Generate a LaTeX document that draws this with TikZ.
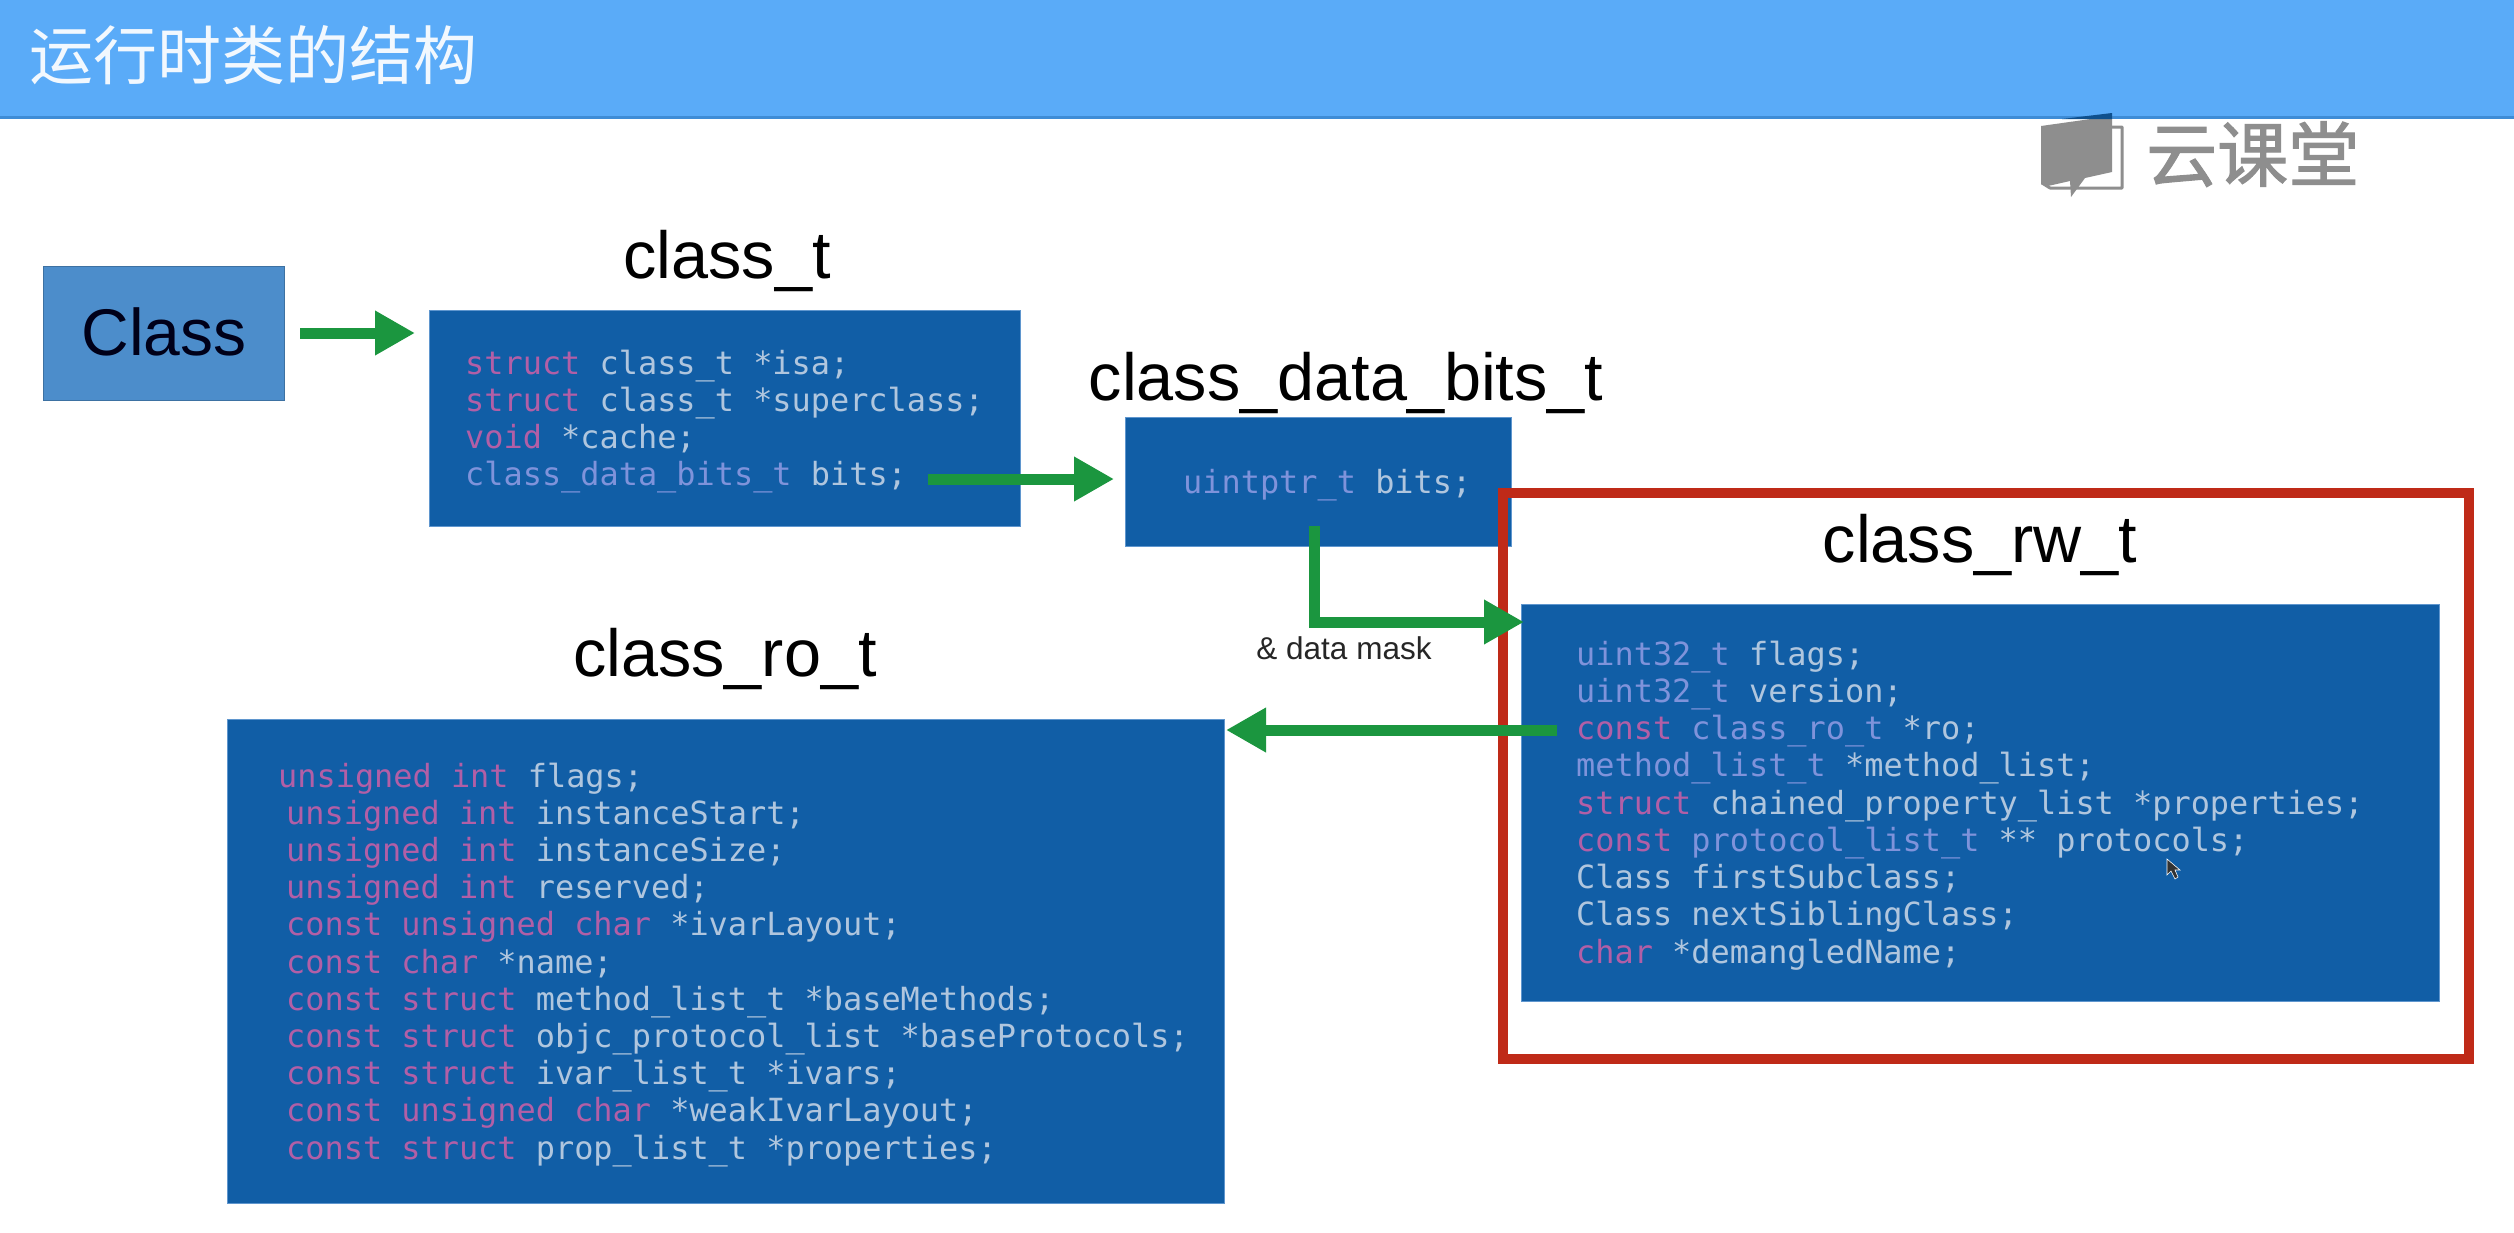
\documentclass[tikz,border=0pt]{standalone}
\usepackage{fontspec}
\setmainfont{Liberation Sans}
\newfontfamily\cjk{Noto Sans CJK SC}
\newfontfamily\logofont[FakeBold=1.5]{Noto Sans CJK SC}
\newfontfamily\codefont{DejaVu Sans Mono}
\usetikzlibrary{arrows.meta}
\definecolor{headblue}{HTML}{5AABF8}
\definecolor{headline}{HTML}{3E8CD6}
\definecolor{boxblue}{HTML}{115EA6}
\definecolor{boxedge}{HTML}{5F96CE}
\definecolor{classblue}{HTML}{4C8DCB}
\definecolor{arrowgreen}{HTML}{1B963F}
\definecolor{framered}{HTML}{BF2A18}
\definecolor{kw}{HTML}{B25FA6}
\definecolor{ty}{HTML}{7F93DB}
\definecolor{id}{HTML}{B0C6DE}
\definecolor{logogrey}{HTML}{8E8E8E}
\newcommand{\K}[1]{\textcolor{kw}{#1}}
\newcommand{\T}[1]{\textcolor{ty}{#1}}
\tikzset{
  x=1pt,y=-1pt,
  codebox/.style={draw=boxedge,line width=1pt,fill=boxblue,anchor=north west,inner sep=0pt,outer sep=0pt},
  code/.style={anchor=base west,inner sep=0pt,text=id,font=\codefont\fontsize{31.9}{36}\selectfont},
  heading/.style={anchor=base,inner sep=0pt,text=black,font=\fontsize{66.6}{70}\selectfont},
  conn/.style={draw=arrowgreen,line width=11pt,-{Triangle[length=40pt,width=42pt]},line join=miter}
}
\begin{document}
\begin{tikzpicture}
\useasboundingbox (0,0) rectangle (2514,1232);
\fill[white] (0,0) rectangle (2514,1232);
% header
\fill[headblue] (0,0) rectangle (2514,118);
\fill[headline] (0,116) rectangle (2514,119);
\node[anchor=base west,inner sep=0pt,text=white!92!headblue,font=\cjk\fontsize{64}{68}\selectfont] (title) at (29,79) {运行时类的结构};
% logo
\fill[logogrey] (2041,126) -- (2112,116) -- (2112,172) -- (2085,178) -- (2071,197) -- (2070,181) -- (2048,186) -- (2041,184) -- cycle;
\fill[boxblue!85!black] (2062,119) -- (2112,113) -- (2112,119) -- cycle;
\draw[logogrey,line width=3pt,line join=round] (2112,127) -- (2122,127) -- (2122,188) -- (2050,188) -- (2042,183);
\node[anchor=base west,inner sep=0pt,text=logogrey,font=\logofont\fontsize{71}{75}\selectfont] (logotext) at (2146,181) {云课堂};
% boxes
\node[codebox,fill=classblue,draw=classblue!80!black,minimum width=241pt,minimum height=134pt] (cls) at (43,266) {};
\node[anchor=base,inner sep=0pt,text=black!90!blue,font=\fontsize{66}{70}\selectfont] (clstext) at (164,355) {Class};
\node[codebox,minimum width=591pt,minimum height=216pt] (ct) at (429,310) {};
\node[codebox,minimum width=386pt,minimum height=129pt] (cdb) at (1125,417) {};
\node[codebox,minimum width=918pt,minimum height=397pt] (rw) at (1521,604) {};
\node[codebox,minimum width=997pt,minimum height=484pt] (ro) at (227,719) {};
% red frame
\node[draw=framered,line width=10pt,anchor=north west,inner sep=0pt,outer sep=0pt,minimum width=966pt,minimum height=566pt] (frame) at (1503,493) {};
% headings
\node[heading] (h1) at (727,278) {class\_t};
\node[heading] (h2) at (1346,400) {class\_data\_bits\_t};
\node[heading] (h3) at (1980,562) {class\_rw\_t};
\node[heading] (h4) at (725,676) {class\_ro\_t};
\node[anchor=base,inner sep=0pt,text=black!85,font=\fontsize{31.5}{34}\selectfont] (mask) at (1344,659) {\&\ data mask};
% class_t code
\node[code] (c1) at (465,374) {\K{struct} class\_t *isa;};
\node[code] (c2) at (465,411) {\K{struct} class\_t *superclass;};
\node[code] (c3) at (465,448) {\K{void} *cache;};
\node[code] (c4) at (465,485) {\T{class\_data\_bits\_t} bits;};
% bits
\node[code] (b1) at (1183,493) {\T{uintptr\_t} bits;};
% rw code
\node[code] (r1) at (1576,665) {\T{uint32\_t} flags;};
\node[code] (r2) at (1576,702.25) {\T{uint32\_t} version;};
\node[code] (r3) at (1576,739.5) {\K{const} \T{class\_ro\_t} *ro;};
\node[code] (r4) at (1576,776.75) {\T{method\_list\_t} *method\_list;};
\node[code] (r5) at (1576,814) {\K{struct} chained\_property\_list *properties;};
\node[code] (r6) at (1576,851.25) {\K{const} \T{protocol\_list\_t} ** protocols;};
\node[code] (r7) at (1576,888.5) {Class firstSubclass;};
\node[code] (r8) at (1576,925.75) {Class nextSiblingClass;};
\node[code] (r9) at (1576,963) {\K{char} *demangledName;};
% ro code
\node[code] (o1) at (278,787) {\K{unsigned int} flags;};
\node[code] (o2) at (286,824.2) {\K{unsigned int} instanceStart;};
\node[code] (o3) at (286,861.4) {\K{unsigned int} instanceSize;};
\node[code] (o4) at (286,898.6) {\K{unsigned int} reserved;};
\node[code] (o5) at (286,935.8) {\K{const unsigned char} *ivarLayout;};
\node[code] (o6) at (286,973) {\K{const char} *name;};
\node[code] (o7) at (286,1010.2) {\K{const struct} method\_list\_t *baseMethods;};
\node[code] (o8) at (286,1047.4) {\K{const struct} objc\_protocol\_list *baseProtocols;};
\node[code] (o9) at (286,1084.6) {\K{const struct} ivar\_list\_t *ivars;};
\node[code] (o10) at (286,1121.8) {\K{const unsigned char} *weakIvarLayout;};
\node[code] (o11) at (286,1159) {\K{const struct} prop\_list\_t *properties;};
% connectors
\coordinate (a1s) at (300,333);
\coordinate (a1e) at (415,333);
\coordinate (a2s) at (928,479);
\coordinate (a2e) at (1114,479);
\coordinate (a3s) at (1314,526);
\coordinate (a3e) at (1524,622);
\coordinate (a4s) at (1557,730);
\coordinate (a4e) at (1226,730);
\draw[conn] (a1s) -- (a1e);
\draw[conn] (a2s) -- (a2e);
\draw[conn] (a3s) |- (a3e);
\draw[conn] (a4s) -- (a4e);
% pointer
\fill[black!80,draw=white,line width=.6pt] (2167,859) -- (2167,875) -- (2171,871) -- (2175,879) -- (2178,877) -- (2175,870) -- (2180,870) -- cycle;
\end{tikzpicture}
\end{document}
